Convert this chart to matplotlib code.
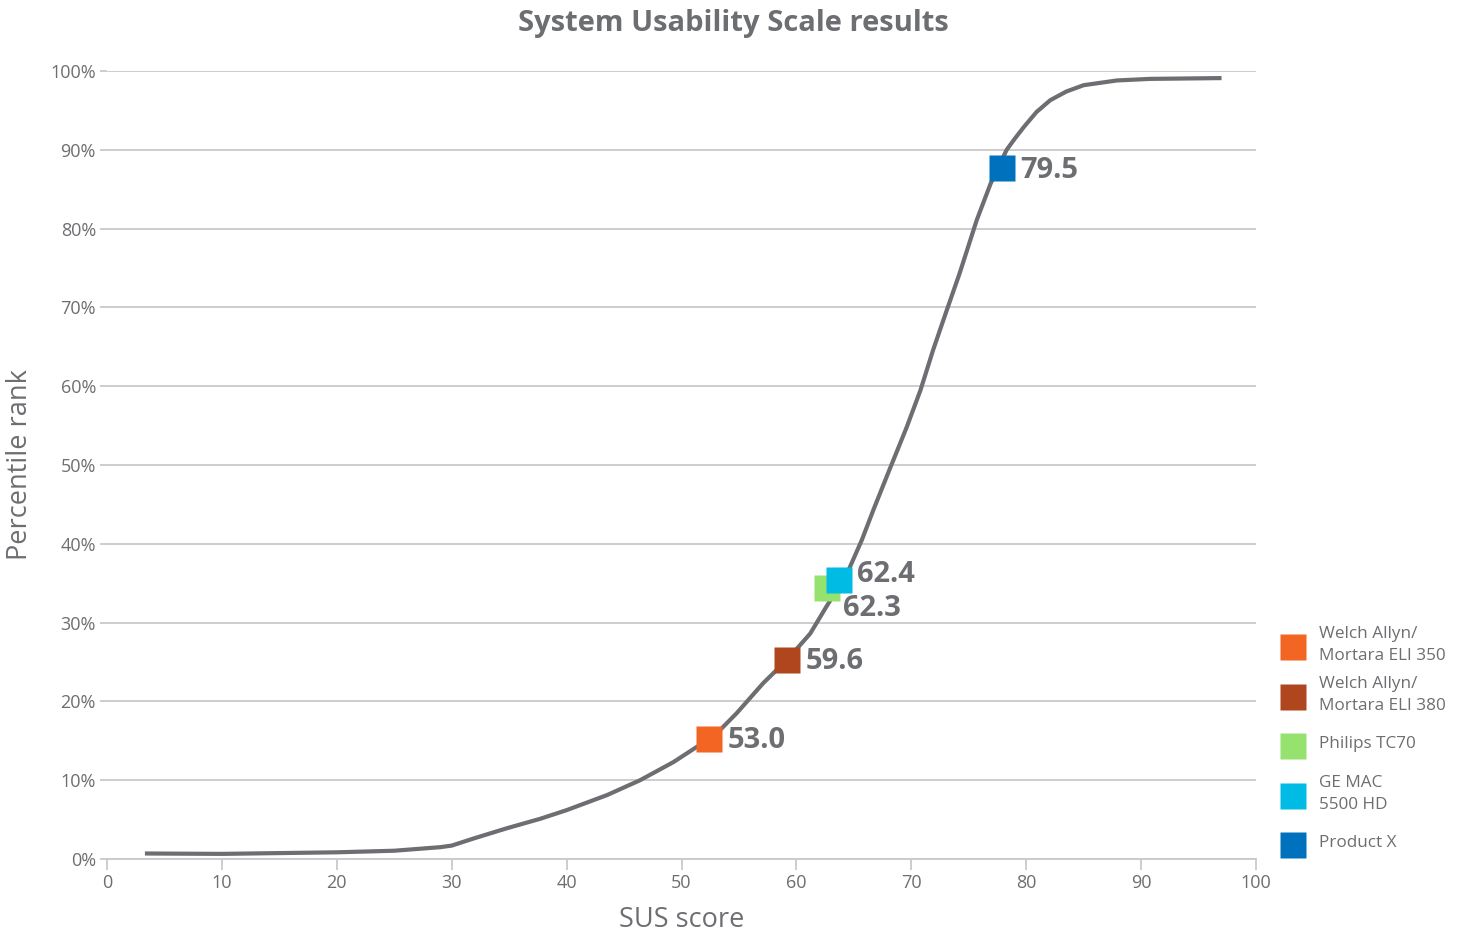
import matplotlib
matplotlib.use('Agg')
import matplotlib.pyplot as plt
from matplotlib.lines import Line2D
from matplotlib.ticker import PercentFormatter

# SUS percentile curve
sus_x = [3.3, 10, 20, 25, 29, 30, 31.9, 34.8, 37.7, 40.0, 43.5, 46.4, 49.3,
         51.3, 52.5, 54.8, 57.1, 59.2, 61.2, 62.6, 64.4, 65.7, 66.7, 68.1,
         69.6, 70.8, 71.9, 73.1, 74.2, 75.7, 76.9, 78.3, 79.0, 79.8, 80.9,
         82.1, 83.5, 85.0, 87.9, 90.8, 97.0]
pct_rank = [0.7, 0.65, 0.85, 1.05, 1.5, 1.7, 2.6, 3.9, 5.1, 6.2, 8.1, 10.0,
            12.3, 14.2, 15.1, 18.5, 22.3, 25.3, 28.6, 32.0, 36.2, 40.5, 44.3,
            49.4, 54.8, 59.5, 64.6, 69.7, 74.3, 81.1, 85.7, 90.0, 91.4, 92.9,
            94.8, 96.3, 97.4, 98.2, 98.8, 99.0, 99.1]

# products
products = ['Welch Allyn/\nMortara ELI 350', 'Welch Allyn/\nMortara ELI 380',
            'Philips TC70', 'GE MAC\n5500 HD', 'Product X']
prod_x = [52.4, 59.2, 62.7, 63.7, 77.9]
prod_y = [15.2, 25.2, 34.4, 35.4, 87.7]
prod_labels = ['53.0', '59.6', '62.3', '62.4', '79.5']
prod_colors = ['#f26522', '#b0461d', '#96e26e', '#00bce4', '#0071bc']
label_offsets = [(13, -1), (13, -1), (11, -15), (13, 4), (13, -2)]

GRAY = '#6d6e71'
GRID = '#c9c9c9'

plt.rcParams['font.family'] = ['Open Sans', 'DejaVu Sans']

fig = plt.figure(figsize=(14.63, 9.36), dpi=100)
ax = fig.add_axes([107 / 1463, 1 - 859 / 936, (1256 - 107) / 1463, (859 - 71) / 936])

ax.plot(sus_x, pct_rank, color=GRAY, lw=3, solid_capstyle='butt',
        solid_joinstyle='round', zorder=3)

for x, y, lab, c, off in zip(prod_x, prod_y, prod_labels, prod_colors, label_offsets):
    ax.plot([x], [y], marker='s', ms=18.7, color=c, mec='none', ls='none', zorder=4)
    ax.annotate(lab, (x, y), xytext=off, textcoords='offset points',
                ha='left', va='center', fontsize=21, fontweight='bold', color=GRAY)

ax.set_xlim(0, 100)
ax.set_ylim(0, 100)
ax.set_xticks(range(0, 101, 10))
ax.set_yticks(range(0, 101, 10))
ax.yaxis.set_major_formatter(PercentFormatter(decimals=0))
ax.grid(axis='y', color=GRID, lw=1.3)
ax.set_axisbelow(True)
for s in ['top', 'right', 'left']:
    ax.spines[s].set_visible(False)
ax.spines['bottom'].set_color(GRID)
ax.spines['bottom'].set_linewidth(1.3)
ax.tick_params(axis='x', colors=GRID, length=8, width=1.3, labelcolor=GRAY,
               labelsize=13, pad=3)
ax.tick_params(axis='y', colors=GRID, length=5, width=1.3, labelcolor=GRAY,
               labelsize=13, pad=3)

ax.set_xlabel('SUS score', fontsize=19.5, color=GRAY, labelpad=10)
ax.set_ylabel('Percentile rank', fontsize=19.5, color=GRAY, labelpad=12)
fig.text(733 / 1463, 1 - 24 / 936, 'System Usability Scale results', ha='center',
         va='center', fontsize=21, fontweight='bold', color=GRAY)

# legend, evenly spaced entries
leg_y = [647, 697, 746, 796, 845]
for name, c, py in zip(products, prod_colors, leg_y):
    fig.add_artist(Line2D([1293 / 1463], [1 - py / 936], marker='s', ms=18.7,
                          color=c, mec='none', ls='none'))
    fig.text(1319 / 1463, 1 - (py - 2) / 936, name, ha='left', va='center',
             fontsize=12.3, color=GRAY, linespacing=1.45)

fig.savefig('out.png', dpi=100)
